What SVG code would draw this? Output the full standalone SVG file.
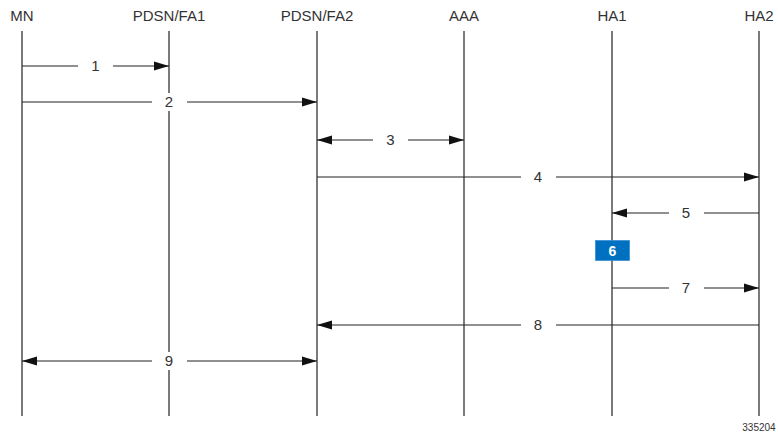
<svg xmlns="http://www.w3.org/2000/svg" width="778" height="434" viewBox="0 0 778 434">
<style>
.hdr{font-family:"Liberation Sans",Arial,sans-serif;font-size:15px;fill:#333;text-anchor:middle}
.life{stroke:#222;stroke-width:1.2;fill:none}
.msg{stroke:#222;stroke-width:1.2;fill:none}
.lbl{font-family:"Liberation Sans",Arial,sans-serif;font-size:15px;fill:#333;text-anchor:middle}
.gap{fill:#fff}
</style>
<defs>
<marker id="ah" markerUnits="userSpaceOnUse" markerWidth="15" markerHeight="10" refX="15" refY="5" orient="auto-start-reverse" viewBox="0 0 15 10">
<path d="M0,0.5 L15,5 L0,9.5 z" fill="#111"/>
</marker>
</defs>
<rect width="778" height="434" fill="#fff"/>
<g id="MN"><text class="hdr" x="22" y="21">MN</text><line class="life" x1="22" y1="31" x2="22" y2="416"/></g>
<g id="PDSN_FA1"><text class="hdr" x="169" y="21">PDSN/FA1</text><line class="life" x1="169" y1="31" x2="169" y2="416"/></g>
<g id="PDSN_FA2"><text class="hdr" x="317" y="21">PDSN/FA2</text><line class="life" x1="317" y1="31" x2="317" y2="416"/></g>
<g id="AAA"><text class="hdr" x="464" y="21">AAA</text><line class="life" x1="464" y1="31" x2="464" y2="416"/></g>
<g id="HA1"><text class="hdr" x="612" y="21">HA1</text><line class="life" x1="612" y1="31" x2="612" y2="416"/></g>
<g id="HA2"><text class="hdr" x="759" y="21">HA2</text><line class="life" x1="759" y1="31" x2="759" y2="416"/></g>
<g id="connectors">
<line class="msg" x1="22" y1="66" x2="169" y2="66" marker-end="url(#ah)"/>
<rect class="gap" x="78" y="57" width="35" height="18"/><text class="lbl" x="95.5" y="71">1</text>
<line class="msg" x1="22" y1="102" x2="317" y2="102" marker-end="url(#ah)"/>
<rect class="gap" x="152" y="93" width="35" height="18"/><text class="lbl" x="169" y="107">2</text>
<line class="msg" x1="317" y1="140" x2="464" y2="140" marker-start="url(#ah)" marker-end="url(#ah)"/>
<rect class="gap" x="373" y="131" width="35" height="18"/><text class="lbl" x="390.5" y="145">3</text>
<line class="msg" x1="317" y1="177" x2="759" y2="177" marker-end="url(#ah)"/>
<rect class="gap" x="521" y="168" width="35" height="18"/><text class="lbl" x="538" y="182">4</text>
<line class="msg" x1="759" y1="213" x2="612" y2="213" marker-end="url(#ah)"/>
<rect class="gap" x="669" y="204" width="35" height="18"/><text class="lbl" x="686" y="218">5</text>
<line class="msg" x1="612" y1="288" x2="759" y2="288" marker-end="url(#ah)"/>
<rect class="gap" x="669" y="279" width="35" height="18"/><text class="lbl" x="686" y="293">7</text>
<line class="msg" x1="759" y1="325" x2="317" y2="325" marker-end="url(#ah)"/>
<rect class="gap" x="521" y="316" width="35" height="18"/><text class="lbl" x="538" y="330">8</text>
<line class="msg" x1="22" y1="361" x2="317" y2="361" marker-start="url(#ah)" marker-end="url(#ah)"/>
<rect class="gap" x="152" y="352" width="35" height="18"/><text class="lbl" x="169" y="366">9</text>
</g>
<g id="step6">
<rect x="595.5" y="240.5" width="34" height="20" fill="#0070c0" stroke="#3a8fd6" stroke-width="0.8"/>
<text x="612.5" y="256" font-family="Liberation Sans,Arial,sans-serif" font-size="14" font-weight="bold" fill="#fff" text-anchor="middle">6</text>
</g>
<text x="759" y="431" font-family="Liberation Sans,Arial,sans-serif" font-size="10" fill="#333" text-anchor="middle">335204</text>
</svg>
